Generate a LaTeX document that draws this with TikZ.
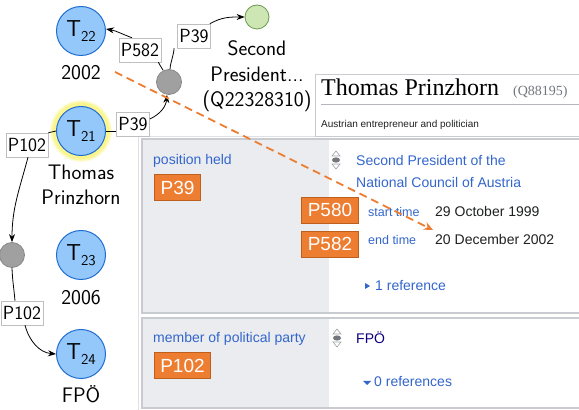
\documentclass[tikz,border=0pt]{standalone}
\usepackage{fontspec}
\newfontfamily\wdsans{Liberation Sans}
\newfontfamily\wdserif{Liberation Serif}
\usetikzlibrary{arrows.meta,calc}

\definecolor{nodeblue}{RGB}{148,200,250}
\definecolor{nodeedge}{RGB}{30,110,210}
\definecolor{blankfill}{RGB}{160,160,160}
\definecolor{blankedge}{RGB}{135,135,135}
\definecolor{greenfill}{RGB}{205,230,180}
\definecolor{greenedge}{RGB}{105,155,75}
\definecolor{glow}{RGB}{250,245,140}
\definecolor{wdorange}{RGB}{237,125,49}
\definecolor{wdorangeedge}{RGB}{190,95,30}
\definecolor{panelgray}{RGB}{234,236,240}
\definecolor{panelline}{RGB}{200,204,209}
\definecolor{linkblue}{RGB}{51,102,204}
\definecolor{visited}{RGB}{11,0,128}
\definecolor{bodytext}{RGB}{32,33,34}
\definecolor{idgray}{RGB}{114,119,125}

\tikzset{
  ent/.style={circle, draw=nodeedge, fill=nodeblue, line width=1pt,
    minimum size=49pt, inner sep=0pt, font=\sffamily\fontsize{23}{23}\selectfont},
  blank/.style={circle, draw=blankedge, fill=blankfill, line width=0.8pt,
    minimum size=25pt, inner sep=0pt},
  val/.style={circle, draw=greenedge, fill=greenfill, line width=0.8pt,
    minimum size=24pt, inner sep=0pt},
  caption/.style={font=\sffamily\fontsize{21}{25}\selectfont, anchor=base, inner sep=0pt},
  lab/.style={draw=black!25, fill=white, line width=0.5pt,
    font=\sffamily\fontsize{19}{19}\selectfont, inner xsep=2pt, inner ysep=0pt,
    minimum height=24pt},
  link/.style={line width=0.8pt},
  linkarrow/.style={line width=0.8pt, -{Stealth[length=8pt,width=6pt]}},
  pid/.style={fill=wdorange, draw=wdorangeedge, line width=0.8pt, text=white,
    font=\wdsans\fontsize{19}{19}\selectfont, minimum height=26pt,
    inner xsep=6pt, inner ysep=0pt},
  wd/.style={font=\wdsans\fontsize{14}{14}\selectfont, anchor=base west, inner sep=0pt, text=bodytext},
  wdlink/.style={wd, text=linkblue},
  wdsmall/.style={wd, font=\wdsans\fontsize{12.5}{12.5}\selectfont, text=linkblue},
  rankicon/.pic={
    \draw[panelline!80!black, line width=0.6pt] (-4,4) -- (4,4) -- (0,9) -- cycle;
    \draw[panelline!80!black, line width=0.6pt] (-4,-4) -- (4,-4) -- (0,-9) -- cycle;
    \fill[idgray] (0,0) ellipse (4 and 2.6);
  },
}

\newcommand{\tlabel}[1]{T\raisebox{-5pt}{\fontsize{15}{15}\selectfont #1}}

\begin{document}
\begin{tikzpicture}[x=1pt,y=1pt]
\useasboundingbox (0,0) rectangle (579,410);

% ---------- Wikidata item page ----------
% outer container
\draw[panelline!60, line width=0.8pt] (138,-5) -- (138,274) -- (590,274);
% header
\draw[panelline, fill=white, line width=0.8pt] (315,274) rectangle (590,336);
\draw[panelline!90!black, line width=0.8pt] (321,306) -- (590,306);
\node[anchor=base west, inner sep=0pt, font=\wdserif\fontsize{24}{24}\selectfont, text=black]
  (title) at (321,314) {Thomas Prinzhorn};
\node[anchor=base west, inner sep=0pt, font=\wdserif\fontsize{14}{14}\selectfont, text=idgray]
  (qid) at (513,314) {(Q88195)};
\node[anchor=base west, inner sep=0pt, font=\wdsans\fontsize{10}{10}\selectfont, text=bodytext]
  (desc) at (321,282) {Austrian entrepreneur and politician};

% statement group: position held
\fill[white] (142,97) rectangle (590,271);
\fill[panelgray] (142,97) rectangle (329,271);
\draw[panelline, line width=1.2pt] (142,97) rectangle (590,271);
\node[wdlink] (ph) at (153,245) {position held};
\node[pid] (p39) at (177.5,222.5) {P39};
\pic at (336,250) {rankicon};
\node[wdlink] (sp1) at (356,244) {Second President of the};
\node[wdlink] (sp2) at (356,222) {National Council of Austria};
\node[pid] (p580) at (330,200) {P580};
\node[pid] (p582) at (330,166) {P582};
\node[wdsmall] (st) at (368,193) {start time};
\node[wd] (sd) at (435,193) {29 October 1999};
\node[wdsmall] (et) at (368,165) {end time};
\node[wd] (ed) at (435,165) {20 December 2002};
\fill[linkblue] (365,127) -- (365,121) -- (370,124) -- cycle;
\node[wdlink] (ref1) at (375,119) {1 reference};

% statement group: member of political party
\fill[white] (142,2) rectangle (590,92);
\fill[panelgray] (142,2) rectangle (329,92);
\draw[panelline, line width=1.2pt] (142,2) rectangle (590,92);
\node[wdlink] (mpp) at (153,67) {member of political party};
\node[pid] (p102) at (182.5,44.5) {P102};
\pic at (337,72) {rankicon};
\node[wd, text=visited] (fpo) at (356,66) {FPÖ};
\fill[linkblue] (363,29) -- (371,29) -- (367,25) -- cycle;
\node[wdlink] (ref0) at (374,23) {0 references};

% ---------- graph ----------
% highlight around the item node
\foreach \r/\o in {31/0.25,30/0.4,29/0.6,28/0.85}
  \fill[glow, opacity=\o] (81,279) circle (\r);

\node[ent] (t22) at (81,379) {\tlabel{22}};
\node[ent] (t21) at (81,279) {\tlabel{21}};
\node[ent] (t23) at (81,155) {\tlabel{23}};
\node[ent] (t24) at (81,56) {\tlabel{24}};
\node[blank] (b1) at (169,328) {};
\node[blank] (b2) at (12,155) {};
\node[val] (g) at (257,393) {};

\node[caption] (c22) at (81,330) {2002};
\node[caption] (c21a) at (81,230) {Thomas};
\node[caption] (c21b) at (81,205) {Prinzhorn};
\node[caption] (c23) at (81,105) {2006};
\node[caption] (c24) at (81,7) {FPÖ};
\node[caption] (cga) at (257,354) {Second};
\node[caption] (cgb) at (257,328) {President...};
\node[caption] (cgc) at (257,303) {(Q22328310)};

\node[lab] (l582) at (140,360) {P582};
\node[lab] (l39b) at (194,374) {P39};
\node[lab] (l39a) at (133,286) {P39};
\node[lab] (l102a) at (27,265) {P102};
\node[lab] (l102b) at (22,97) {P102};

% T21 --P39--> blank node
\draw[link] (t21.east) -- (t21.east -| l39a.west);
\draw[linkarrow] ($(l39a.east)+(0,5)$) to[out=25,in=-95] ($(b1.south)+(-2,0)$);
% blank node --P582--> T22
\draw[link] ($(b1.north)+(-6,-1)$) to[out=100,in=-85] ($(l582.south east)+(-3,0)$);
\draw[linkarrow] ($(l582.north)+(-8,0)$) to[out=160,in=-10] ($(t22.east)+(0,2)$);
% blank node --P39--> value
\draw[link] ($(b1.north)+(1,0)$) to[out=85,in=-95] ($(l39b.south west)+(-3,0)$);
\draw[linkarrow] ($(l39b.north east)+(-1,0)$) to[out=30,in=180] (g.west);
% T21 --P102--> blank node
\draw[link] (t21.west) to[out=190,in=15] (l102a.north east);
\draw[linkarrow] ($(l102a.south)+(1,0)$) to[out=-105,in=90] (b2.north);
% blank node --P102--> T24
\draw[link] (b2.south) to[out=-88,in=95] ($(l102b.north)+(-7,0)$);
\draw[linkarrow] ($(l102b.south)+(3,0)$) to[out=-75,in=175] (t24.west);

% pointer from the end year to the qualifier
\coordinate (ds) at (115,338);
\coordinate (de) at (433,180);
\draw[wdorange, line width=1.8pt, dash pattern=on 8pt off 5pt,
  -{Stealth[length=9pt,width=8pt]}] (ds) -- (de);
\end{tikzpicture}
\end{document}
